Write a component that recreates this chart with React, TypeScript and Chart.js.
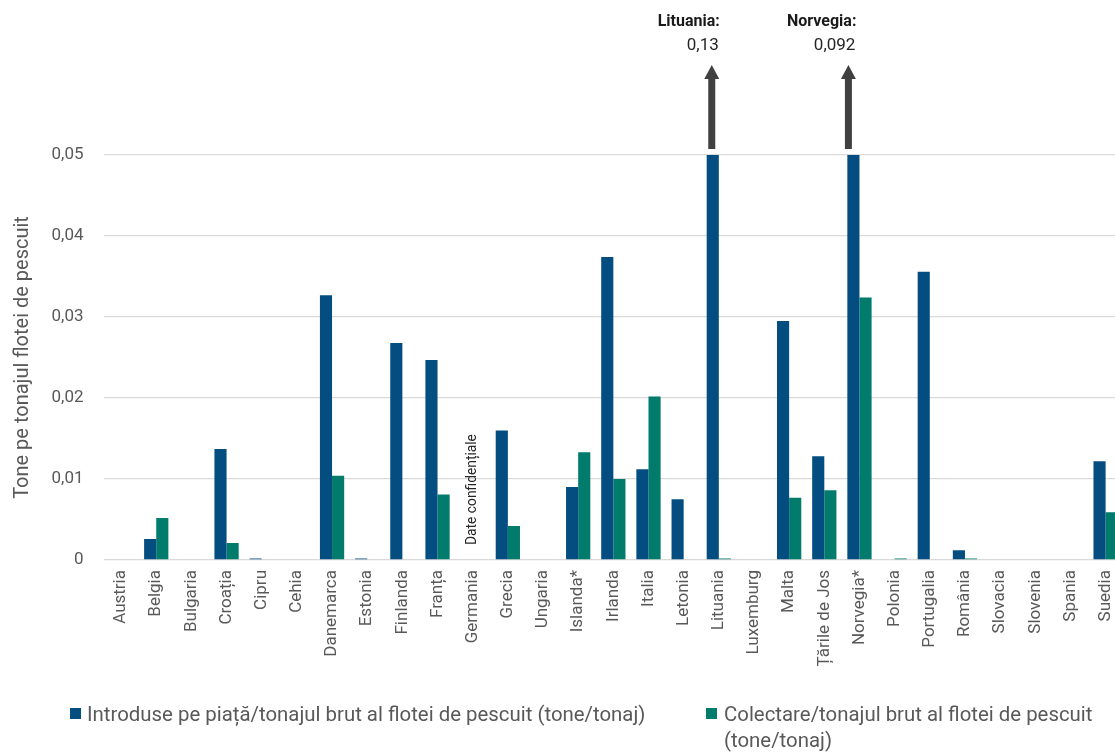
import React, { useEffect, useRef } from "react";
import { Chart, registerables } from "chart.js";

Chart.register(...registerables);

const categories = [
  "Austria", "Belgia", "Bulgaria", "Croația", "Cipru", "Cehia", "Danemarca", "Estonia",
  "Finlanda", "Franța", "Germania", "Grecia", "Ungaria", "Islanda*", "Irlanda", "Italia",
  "Letonia", "Lituania", "Luxemburg", "Malta", "Țările de Jos", "Norvegia*", "Polonia",
  "Portugalia", "România", "Slovacia", "Slovenia", "Spania", "Suedia",
];

const placedOnMarket = [
  0, 0.0026, 0, 0.0137, 0.0002, 0, 0.0327, 0.0002,
  0.0268, 0.0247, null, 0.016, 0, 0.009, 0.0374, 0.0112,
  0.0075, 0.13, 0, 0.0295, 0.0128, 0.092, 0,
  0.0356, 0.0012, 0, 0, 0, 0.0122,
];

const collected = [
  0, 0.0052, 0, 0.0021, 0, 0, 0.0104, 0,
  0, 0.0081, null, 0.0042, 0, 0.0133, 0.01, 0.0202,
  0, 0.0002, 0, 0.0077, 0.0086, 0.0324, 0.0002,
  0, 0.0002, 0, 0, 0, 0.0059,
];

const seriesLabels = [
  "Introduse pe piață/tonajul brut al flotei de pescuit (tone/tonaj)",
  "Colectare/tonajul brut al flotei de pescuit (tone/tonaj)",
];

const yTicks = [0, 0.01, 0.02, 0.03, 0.04, 0.05];
const yTickLabels = ["0", "0,01", "0,02", "0,03", "0,04", "0,05"];
const yTitle = "Tone pe tonajul flotei de pescuit";

const offScaleNotes = [
  { category: "Lituania", title: "Lituania:", value: "0,13", dx: -1 },
  { category: "Norvegia*", title: "Norvegia:", value: "0,092", dx: -5 },
];

const confidentialCategory = "Germania";
const confidentialText = "Date confidențiale";

const BLUE = "#034D80";
const GREEN = "#007B6C";
const GRAY = "#595959";

const notesPlugin = {
  id: "notesPlugin",
  afterDatasetsDraw(chart: any) {
    const ctx = chart.ctx;
    const meta = chart.getDatasetMeta(0);
    const xScale = chart.scales.x;
    const yScale = chart.scales.y;
    const top = chart.chartArea.top;
    ctx.save();
    offScaleNotes.forEach((n) => {
      const i = categories.indexOf(n.category);
      const bar = meta.data[i];
      if (!bar) return;
      const x = bar.x + n.dx;
      ctx.fillStyle = "#404040";
      const shaftBottom = top - 6;
      const headBase = top - 77;
      const tip = top - 90;
      ctx.fillRect(x - 3.5, headBase, 7, shaftBottom - headBase);
      ctx.beginPath();
      ctx.moveTo(x - 7.5, headBase + 1);
      ctx.lineTo(x, tip);
      ctx.lineTo(x + 7.5, headBase + 1);
      ctx.closePath();
      ctx.fill();
      ctx.fillStyle = "#1a1a1a";
      ctx.textAlign = "right";
      ctx.textBaseline = "middle";
      ctx.font = "bold 16px Roboto";
      ctx.fillText(n.title, x + 8, top - 133);
      ctx.fillStyle = "#262626";
      ctx.font = "17px Roboto";
      ctx.fillText(n.value, x + 7, top - 109);
    });
    const ci = categories.indexOf(confidentialCategory);
    const cx = xScale.getPixelForValue(ci);
    const cy = yScale.getPixelForValue(0) - 15;
    ctx.translate(cx, cy);
    ctx.rotate(-Math.PI / 2);
    ctx.fillStyle = "#262626";
    ctx.font = "13.8px Roboto";
    ctx.textAlign = "left";
    ctx.textBaseline = "middle";
    ctx.fillText(confidentialText, 0, 0);
    ctx.restore();
  },
};

export default function App() {
  const canvasRef = useRef<HTMLCanvasElement | null>(null);

  useEffect(() => {
    if (!canvasRef.current) return;
    const chart = new Chart(canvasRef.current, {
      type: "bar",
      data: {
        labels: categories,
        datasets: [
          {
            label: seriesLabels[0],
            data: placedOnMarket,
            backgroundColor: BLUE,
            borderWidth: 0,
            categoryPercentage: 0.69,
            barPercentage: 1,
          },
          {
            label: seriesLabels[1],
            data: collected,
            backgroundColor: GREEN,
            borderWidth: 0,
            categoryPercentage: 0.69,
            barPercentage: 1,
          },
        ],
      },
      options: {
        animation: false,
        responsive: false,
        maintainAspectRatio: false,
        layout: { padding: { top: 155, left: 0, right: 0, bottom: 0 } },
        plugins: { legend: { display: false }, tooltip: { enabled: false } },
        scales: {
          x: {
            grid: { display: false, drawTicks: false },
            border: { display: false },
            ticks: {
              autoSkip: false,
              minRotation: 90,
              maxRotation: 90,
              padding: 10,
              color: GRAY,
              font: { family: "Roboto", size: 17 },
            },
            afterFit(scale: any) {
              scale.height = 194;
            },
          },
          y: {
            min: 0,
            max: 0.05,
            afterBuildTicks(scale: any) {
              scale.ticks = yTicks.map((v) => ({ value: v }));
            },
            ticks: {
              padding: 20,
              color: GRAY,
              font: { family: "Roboto", size: 17 },
              callback: (value: any) => {
                const idx = yTicks.findIndex((t) => Math.abs(t - Number(value)) < 1e-9);
                return idx >= 0 ? yTickLabels[idx] : "";
              },
            },
            grid: { color: "#d9d9d9", lineWidth: 1.3, drawTicks: false },
            border: { display: false },
            title: {
              display: true,
              text: yTitle,
              color: GRAY,
              font: { family: "Roboto", size: 20 },
              padding: { top: 11, bottom: 0 },
            },
            afterFit(scale: any) {
              scale.width = 103.5;
            },
          },
        },
      },
      plugins: [notesPlugin],
    });
    return () => chart.destroy();
  }, []);

  const legendText: React.CSSProperties = {
    position: "absolute",
    top: 701,
    fontFamily: "Roboto, sans-serif",
    fontSize: 20.4,
    lineHeight: "26px",
    color: GRAY,
  };

  return (
    <div
      style={{
        position: "fixed",
        left: 0,
        top: 0,
        width: 1115,
        height: 754,
        overflow: "hidden",
        background: "#ffffff",
      }}
    >
      <canvas ref={canvasRef} width={1136} height={754} style={{ display: "block" }} />
      <div style={{ position: "absolute", left: 70, top: 708, width: 11, height: 11, background: BLUE }} />
      <div style={{ ...legendText, left: 87, whiteSpace: "nowrap" }}>{seriesLabels[0]}</div>
      <div style={{ position: "absolute", left: 706, top: 708, width: 11, height: 11, background: GREEN }} />
      <div style={{ ...legendText, left: 724, width: 385 }}>{seriesLabels[1]}</div>
    </div>
  );
}
